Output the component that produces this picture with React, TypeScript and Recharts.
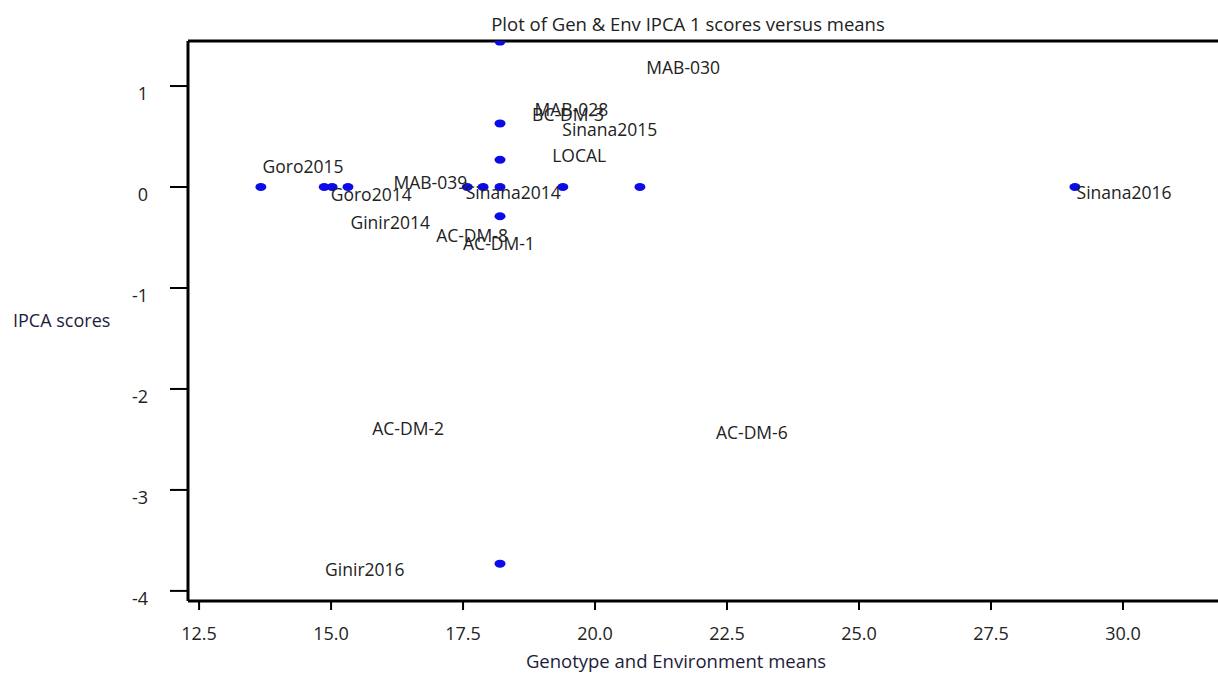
import { ScatterChart, Scatter, XAxis, YAxis, ReferenceLine } from "recharts";

const X_TICKS = [12.5, 15, 17.5, 20, 22.5, 25, 27.5, 30];
const Y_TICKS = [-4, -3, -2, -1, 0, 1];

// markers on the zero line (means) and on the 18.2 column (IPCA 1 scores)
const ROW_MEANS = [13.67, 14.87, 15.02, 15.32, 17.58, 17.88, 18.2, 19.39, 20.85, 29.09];
const COLUMN_MEAN = 18.2;
const COLUMN_SCORES = [1.44, 0.63, 0.27, -0.29, -3.73];

// floating name labels
const LABEL_NAMES = [
  "MAB-030", "MAB-028", "BC-DM-3", "Sinana2015", "LOCAL", "Goro2015",
  "MAB-039", "Goro2014", "Sinana2014", "Ginir2014", "AC-DM-8", "AC-DM-1",
  "AC-DM-2", "AC-DM-6", "Ginir2016", "Sinana2016",
];
const LABEL_X = [21.67, 19.55, 19.49, 20.28, 19.7, 14.47, 16.88, 15.76, 18.45, 16.12, 17.67, 18.18, 16.46, 22.97, 15.64, 30.02];
const LABEL_Y = [1.18, 0.76, 0.71, 0.56, 0.31, 0.2, 0.04, -0.08, -0.06, -0.36, -0.49, -0.56, -2.4, -2.44, -3.79, -0.06];

const X_DOMAIN = [12.29, 31.8];
const Y_DOMAIN = [-4.1, 1.446];

const FONT = "'Open Sans', sans-serif";
const TEXT = "#222";

const points = [
  ...ROW_MEANS.map((m) => ({ x: m, y: 0 })),
  ...COLUMN_SCORES.map((s) => ({ x: COLUMN_MEAN, y: s })),
];
const labels = LABEL_NAMES.map((name, i) => ({ name, x: LABEL_X[i], y: LABEL_Y[i] }));

const Dot = (props: any) => {
  const { cx, cy } = props;
  return <ellipse cx={cx} cy={cy} rx={5.5} ry={4} fill="#0b0bea" />;
};

const NameLabel = (props: any) => {
  const { cx, cy, payload } = props;
  return (
    <text x={cx} y={cy + 6} textAnchor="middle" fontFamily={FONT} fontSize={17.5} fill={TEXT}>
      {payload.name}
    </text>
  );
};

const XTick = (props: any) => {
  const { x, y, payload } = props;
  return (
    <text x={x} y={y + 28} textAnchor="middle" fontFamily={FONT} fontSize={18} fill={TEXT}>
      {payload.value.toFixed(1)}
    </text>
  );
};

const YTick = (props: any) => {
  const { x, y, payload } = props;
  return (
    <text x={x - 20} y={y + 14} textAnchor="end" fontFamily={FONT} fontSize={18} fill={TEXT}>
      {payload.value}
    </text>
  );
};

export default function App() {
  return (
    <div style={{ position: "absolute", left: 0, top: 0, width: 1218, height: 673, background: "#fff" }}>
      <div
        style={{
          position: "absolute", left: 0, width: 1376, top: 11, textAlign: "center",
          fontFamily: FONT, fontSize: 18.5, color: TEXT, whiteSpace: "nowrap",
        }}
      >
        Plot of Gen &amp; Env IPCA 1 scores versus means
      </div>
      <div style={{ position: "absolute", left: 13, top: 308, fontFamily: FONT, fontSize: 18, color: "#1c1c3a" }}>
        IPCA scores
      </div>
      <div
        style={{
          position: "absolute", left: 0, width: 1352, top: 648, textAlign: "center",
          fontFamily: FONT, fontSize: 18.5, color: "#1c1c3a", whiteSpace: "nowrap",
        }}
      >
        Genotype and Environment means
      </div>
      <ScatterChart width={1218} height={673} margin={{ top: 41, right: 0, bottom: 0, left: 0 }}>
        <XAxis
          type="number"
          dataKey="x"
          domain={X_DOMAIN}
          ticks={X_TICKS}
          allowDataOverflow
          height={72}
          tickSize={9}
          tick={<XTick />}
          axisLine={{ stroke: "#000", strokeWidth: 3 }}
          tickLine={{ stroke: "#000", strokeWidth: 2 }}
        />
        <YAxis
          type="number"
          dataKey="y"
          domain={Y_DOMAIN}
          ticks={Y_TICKS}
          allowDataOverflow
          width={188}
          tickSize={18}
          tick={<YTick />}
          axisLine={{ stroke: "#000", strokeWidth: 3 }}
          tickLine={{ stroke: "#000", strokeWidth: 2 }}
        />
        <ReferenceLine y={Y_DOMAIN[1]} stroke="#000" strokeWidth={3} ifOverflow="visible" />
        <Scatter data={points} shape={<Dot />} isAnimationActive={false} />
        <Scatter data={labels} shape={<NameLabel />} isAnimationActive={false} />
      </ScatterChart>
    </div>
  );
}
